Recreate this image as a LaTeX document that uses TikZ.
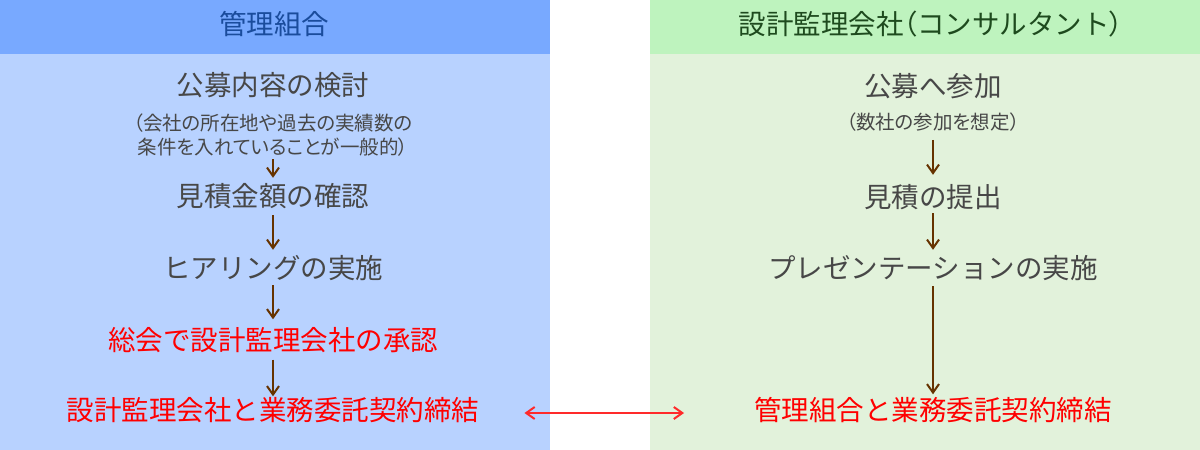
\documentclass[tikz,border=0pt]{standalone}
\usepackage{fontspec}
\newfontfamily\jp{Noto Sans CJK JP}
\newfontfamily\jpp[RawFeature=+palt]{Noto Sans CJK JP}
\usetikzlibrary{arrows.meta}
\definecolor{hdrL}{HTML}{78A9FF}
\definecolor{bodyL}{HTML}{B8D2FF}
\definecolor{hdrR}{HTML}{BEF3BE}
\definecolor{bodyR}{HTML}{E2F2DB}
\definecolor{hdrLtext}{HTML}{1A4C9C}
\definecolor{hdrRtext}{HTML}{1E4A1E}
\definecolor{maintext}{HTML}{474747}
\definecolor{redtext}{HTML}{FF0000}
\definecolor{arrowbrown}{HTML}{663300}
\definecolor{arrowred}{HTML}{FF2A2A}
\tikzset{
  mainlbl/.style={inner sep=0pt, text height=23.2pt, text depth=2.8pt, text=maintext,
    font=\jp\fontsize{27.5}{33}\selectfont},
  redlbl/.style={mainlbl, text=redtext},
  smalllbl/.style={inner sep=0pt, text height=16.5pt, text depth=2pt, text=maintext,
    font=\jpp\fontsize{19.5}{24}\selectfont},
  hdrlbl/.style={inner sep=0pt, text height=23.2pt, text depth=2.8pt,
    font=\jp\fontsize{27.5}{33}\selectfont},
  flowarrow/.style={draw=arrowbrown, line width=2pt,
    -{Straight Barb[length=8.5pt,width=12pt,line width=2pt]}},
  linkarrow/.style={draw=arrowred, line width=2pt,
    {Straight Barb[length=8.5pt,width=12pt,line width=2pt]}-{Straight Barb[length=8.5pt,width=12pt,line width=2pt]}}
}
\begin{document}
\begin{tikzpicture}[x=1pt,y=-1pt]
\useasboundingbox (0,0) rectangle (1200,450);
\fill[white] (0,0) rectangle (1200,450);
% panels
\fill[hdrL] (0,0) rectangle (550,54);
\fill[bodyL] (0,54) rectangle (550,450);
\fill[hdrR] (650,0) rectangle (1200,54);
\fill[bodyR] (650,54) rectangle (1200,450);
% headers
\node[hdrlbl, text=hdrLtext] (hL) at (274,24) {管理組合};
\node[hdrlbl, text=hdrRtext] (hR) at (931,24) {設計監理会社{\jpp （}コンサルタント{\jpp ）}};
% left column
\node[mainlbl] (l1) at (273,85.5) {公募内容の検討};
\node[smalllbl] (l1a) at (273,123) {（会社の所在地や過去の実績数の};
\node[smalllbl] (l1b) at (273,147) {条件を入れていることが一般的）};
\node[mainlbl] (l2) at (273,196) {見積金額の確認};
\node[mainlbl] (l3) at (273,268) {ヒアリングの実施};
\node[redlbl] (l4) at (273,340.5) {総会で設計監理会社の承認};
\node[redlbl] (l5) at (273,410.5) {設計監理会社と業務委託契約締結};
% right column
\node[mainlbl] (r1) at (933,86) {公募へ参加};
\node[smalllbl] (r1a) at (933,122.5) {（数社の参加を想定）};
\node[mainlbl] (r2) at (933,197) {見積の提出};
\node[mainlbl] (r3) at (933,268) {プレゼンテーションの実施};
\node[redlbl] (r4) at (933,410.5) {管理組合と業務委託契約締結};
% left arrows
\draw[flowarrow, shorten <=3pt, shorten >=5pt] (l1b) -- (l2);
\draw[flowarrow, shorten <=6pt, shorten >=5pt] (l2) -- (l3);
\draw[flowarrow, shorten <=4pt, shorten >=8pt] (l3) -- (l4);
\draw[flowarrow, shorten <=6pt, shorten >=1pt] (l4) -- (l5);
% right arrows
\draw[flowarrow, shorten <=8pt, shorten >=9pt] (r1a) -- (r2);
\draw[flowarrow, shorten <=3pt, shorten >=5pt] (r2) -- (r3);
\draw[flowarrow, shorten <=5pt, shorten >=3pt] (r3) -- (r4);
% link
\draw[linkarrow, shorten <=45pt, shorten >=70pt] ([yshift=-2.5pt]l5.east) -- ([yshift=-2.5pt]r4.west);
\end{tikzpicture}
\end{document}
